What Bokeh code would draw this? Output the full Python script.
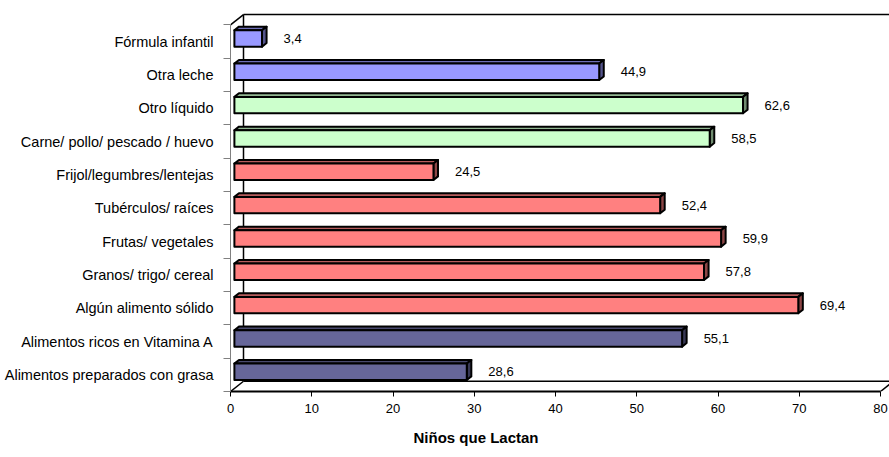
from bokeh.plotting import figure
from bokeh.models import Range1d, FixedTicker, Title, ColumnDataSource
from bokeh.embed import file_html
from bokeh.resources import INLINE
from bokeh.core.properties import value

# ---- data (top to bottom as shown) ----
categories = ["Fórmula infantil", "Otra leche", "Otro líquido",
              "Carne/ pollo/ pescado / huevo", "Frijol/legumbres/lentejas",
              "Tubérculos/ raíces", "Frutas/ vegetales", "Granos/ trigo/ cereal",
              "Algún alimento sólido", "Alimentos ricos en Vitamina A",
              "Alimentos preparados con grasa"]
values = [3.4, 44.9, 62.6, 58.5, 24.5, 52.4, 59.9, 57.8, 69.4, 55.1, 28.6]
x_ticks = [0, 10, 20, 30, 40, 50, 60, 70, 80]
axis_title = "Niños que Lactan"

# ---- styles ----
front_cols = ["#9999FF", "#9999FF", "#CCFFCC", "#CCFFCC", "#FF8080", "#FF8080",
              "#FF8080", "#FF8080", "#FF8080", "#666699", "#666699"]
FONT = "Liberation Sans"


def shade(hexcol, f):
    h = hexcol.lstrip("#")
    r, g, b = (int(h[i:i + 2], 16) for i in (0, 2, 4))
    return "#%02x%02x%02x" % (int(r * f), int(g * f), int(b * f))


# pixel geometry of the plotting frame
W, H = 889, 457
frame_left, frame_right_pad, frame_top = 230, 0, 10
fw = W - frame_left - frame_right_pad
fh = 371
x_max = x_ticks[-1]
n = len(categories)
sx = 650.0 / x_max          # px per x unit
sy = 357.0 / n              # px per category
x_end = fw / sx
y_end = fh / sy
Dx = 13.0 / sx              # depth vector in data units
Dy = 10.0 / sy
a, b = 0.30, 0.65           # bar depth start / end
hh = 8.0 / sy               # half height of bar face

p = figure(width=W, height=H, x_range=Range1d(0, x_end), y_range=Range1d(0, y_end),
           output_backend="svg", toolbar_location=None,
           min_border_left=frame_left, min_border_right=frame_right_pad,
           min_border_top=frame_top, min_border_bottom=0)
p.outline_line_color = None
p.xgrid.visible = False
p.ygrid.visible = False
p.background_fill_color = "white"
p.border_fill_color = "white"

# ---- walls / floor edges ----
wall_x0 = [Dx, Dx, 0, 0, x_max, Dx]
wall_y0 = [n + Dy, Dy, n, 0, 0, Dy]
wall_x1 = [x_max + Dx, Dx, Dx, Dx, x_max + Dx, x_max + Dx]
wall_y1 = [n + Dy, n + Dy, n + Dy, Dy, Dy, Dy]
p.segment(wall_x0, wall_y0, wall_x1, wall_y1, line_color="black", line_width=1.5)

# ---- bars ----
fx, fy, tx, ty, rx, ry, fc, tc, rc = [], [], [], [], [], [], [], [], []
for i, (v, col) in enumerate(zip(values, front_cols)):
    j = n - 1 - i
    c = j + 0.5
    x0f, x1f = a * Dx, v + a * Dx
    x0b, x1b = b * Dx, v + b * Dx
    bf, tf = c - hh + a * Dy, c + hh + a * Dy
    bb, tb = c - hh + b * Dy, c + hh + b * Dy
    fx.append([x0f, x1f, x1f, x0f]); fy.append([bf, bf, tf, tf])
    tx.append([x0f, x1f, x1b, x0b]); ty.append([tf, tf, tb, tb])
    rx.append([x1f, x1b, x1b, x1f]); ry.append([bf, bb, tb, tf])
    fc.append(col); tc.append(shade(col, 0.72)); rc.append(shade(col, 0.55))

p.patches(tx, ty, fill_color=tc, line_color="black", line_width=2, line_join="round")
p.patches(rx, ry, fill_color=rc, line_color="black", line_width=2, line_join="round")
p.patches(fx, fy, fill_color=fc, line_color="black", line_width=2, line_join="round")

# ---- value labels ----
lab = ColumnDataSource(dict(
    x=[v + b * Dx + 17.0 / sx for v in values],
    y=[n - 1 - i + 0.5 + a * Dy for i in range(n)],
    t=[("%.1f" % v).replace(".", ",") for v in values]))
p.text("x", "y", text="t", source=lab, text_font=value(FONT), text_font_size="13px",
       text_baseline="middle", text_align="left", text_color="black")

# ---- axes ----
xa = p.xaxis[0]
xa.ticker = FixedTicker(ticks=x_ticks)
xa.bounds = (0, x_max)
xa.axis_line_color = "black"
xa.axis_line_width = 2
xa.major_tick_out = 5
xa.major_tick_in = 0
xa.major_tick_line_color = "black"
xa.minor_tick_line_color = None
xa.major_label_standoff = 7
xa.major_label_text_font = FONT
xa.major_label_text_font_size = "13px"
xa.major_label_text_color = "black"

ya = p.yaxis[0]
ya.ticker = FixedTicker(ticks=[j + 0.5 for j in range(n)], minor_ticks=list(range(n + 1)))
ya.major_label_overrides = {n - 1 - i + 0.5: name for i, name in enumerate(categories)}
ya.bounds = (0, n)
ya.axis_line_color = "#808080"
ya.axis_line_width = 1
ya.major_tick_line_color = None
ya.major_tick_out = 0
ya.major_tick_in = 0
ya.minor_tick_line_color = "#808080"
ya.minor_tick_out = 7
ya.minor_tick_in = 0
ya.major_label_standoff = 10
ya.major_label_text_font = FONT
ya.major_label_text_font_size = "14.5px"
ya.major_label_text_color = "black"

# ---- axis title ----
p.add_layout(Title(text=axis_title, align="left", offset=183, standoff=23,
                   text_font=FONT, text_font_size="15px", text_font_style="bold",
                   text_color="black"), "below")

open("out.html", "w").write(file_html(p, INLINE))
